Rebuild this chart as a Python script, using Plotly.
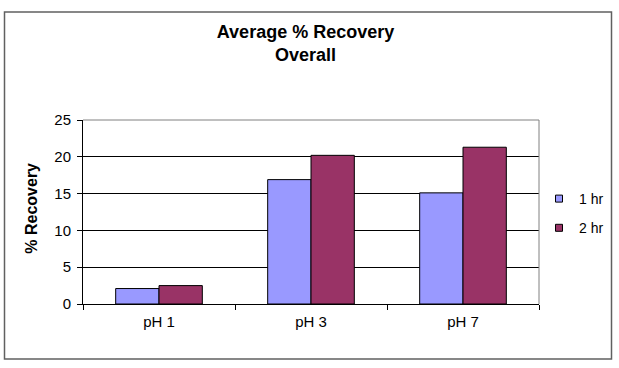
import plotly.graph_objects as go

categories = ["pH 1", "pH 3", "pH 7"]
series_names = ["1 hr", "2 hr"]
values_1hr = [2.1, 16.9, 15.1]
values_2hr = [2.5, 20.2, 21.3]
colors = ["#9999FF", "#993366"]
y_ticks = [0, 5, 10, 15, 20, 25]

W, H = 619, 368
L, R, T, B = 83, 80, 120, 64
pw = W - L - R
ph = H - T - B

FONT = "Liberation Sans, Arial, sans-serif"

fig = go.Figure()
for name, vals, col in zip(series_names, [values_1hr, values_2hr], colors):
    fig.add_trace(go.Bar(
        x=categories, y=vals, name=name, showlegend=False,
        marker=dict(color=col, line=dict(color="#000000", width=1)),
    ))
# legend entries with small square symbols
for i, (name, col) in enumerate(zip(series_names, colors)):
    fig.add_trace(go.Scatter(
        x=[None], y=[None], mode="markers", name=name, legendgroup=name,
        marker=dict(symbol="square", size=7, color=col, line=dict(color="#000000", width=1)),
    ))

def px_x(p):
    return (p - L) / pw

def px_y(p):
    return (H - B - p) / ph

shapes = [
    # outer chart border
    dict(type="rect", xref="paper", yref="paper",
         x0=px_x(4.5), x1=px_x(611.5), y0=px_y(359), y1=px_y(12),
         line=dict(color="#606060", width=1.5), layer="below"),
    # plot area top/right border
    dict(type="path", xref="paper", yref="paper",
         path="M 0,1 L 1,1 L 1,0", line=dict(color="#808080", width=1), layer="above"),
]

fig.update_layout(
    width=W, height=H, autosize=False,
    margin=dict(l=L, r=R, t=T, b=B, autoexpand=False),
    paper_bgcolor="white", plot_bgcolor="white",
    font=dict(family=FONT, size=15, color="#000000"),
    barmode="group", bargap=0.43, bargroupgap=0,
    title=dict(text="<b>Average % Recovery<br>Overall</b>", x=305.5 / W, xanchor="center",
               y=1 - 38 / H, yanchor="top", font=dict(size=18, family=FONT, color="#000000")),
    xaxis=dict(showgrid=False, showline=True, linecolor="#000000", linewidth=1,
               ticks="outside", tickson="boundaries", ticklen=5, tickcolor="#000000",
               tickfont=dict(size=15), zeroline=False, ticklabelstandoff=4),
    yaxis=dict(range=[0, 25], tickvals=y_ticks, showgrid=True, gridcolor="#000000", gridwidth=1,
               showline=True, linecolor="#000000", linewidth=1, ticks="outside", ticklen=5,
               tickcolor="#000000", tickfont=dict(size=15), zeroline=False, ticklabelstandoff=3),
    legend=dict(x=px_x(539), xanchor="left", y=px_y(183), yanchor="top",
                font=dict(size=14), tracegroupgap=8, bgcolor="rgba(0,0,0,0)"),
    shapes=shapes,
    annotations=[dict(text="<b>% Recovery</b>", xref="paper", yref="paper",
                      x=px_x(30.7), y=px_y(208), xanchor="center", yanchor="middle",
                      textangle=-90, showarrow=False, font=dict(size=16, family=FONT))],
)

fig.write_html("out.html", config={"displayModeBar": False},
               post_script="document.body.style.margin='0';document.body.style.padding='0';")
